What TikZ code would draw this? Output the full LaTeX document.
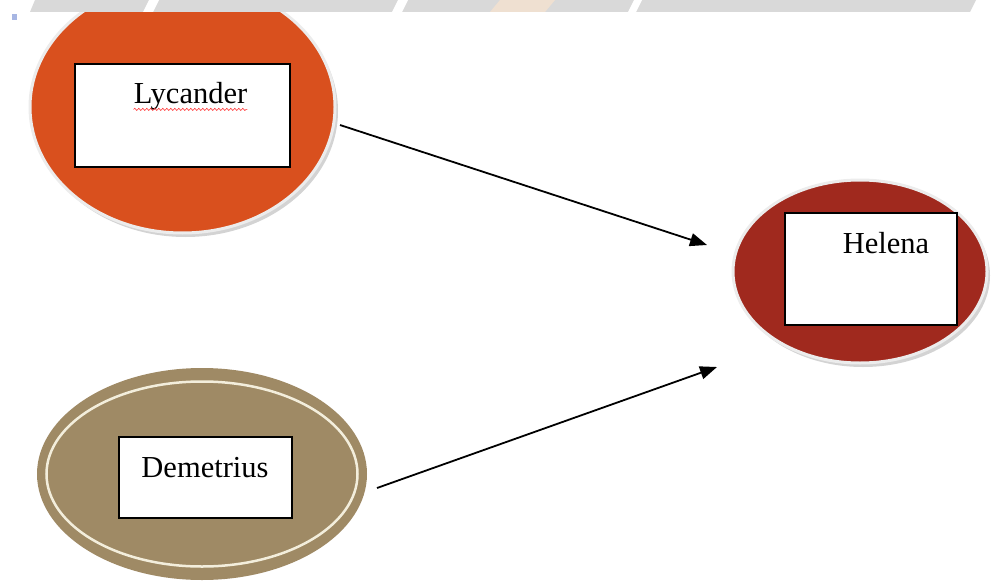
\documentclass[tikz,border=0pt]{standalone}
\usepackage{fontspec}
\setmainfont{Liberation Serif}
\usepackage{tikz}
\usetikzlibrary{arrows.meta,positioning,shapes,shadows,decorations.pathmorphing}
\definecolor{lycfill}{HTML}{D9501E}
\definecolor{helfill}{HTML}{A0291E}
\definecolor{demfill}{HTML}{9F8A65}
\definecolor{ringcol}{HTML}{F3EEDC}
\definecolor{bandcol}{HTML}{D9D9D9}
\tikzset{
    %Define standard arrow tip
    >={Triangle[length=17pt,width=13pt]},
    %Define style for ellipses
    bubble/.style={
    	ellipse,
    	inner sep=0pt
    },
    shadowed/.style={
    	bubble,
    	draw=gray!15, line width=3pt,
    	drop shadow={opacity=.35, shadow xshift=3pt, shadow yshift=-4pt}
    },
    %Define style for boxes
    namebox/.style={
    	rectangle,
    	draw=black, line width=1.2pt,
    	fill=white,
    	inner sep=0pt
    },
    nametext/.style={
    	font=\fontsize{30.5}{36}\selectfont,
    	text=black,
    	inner sep=0pt,
    	anchor=base
    },
    % Define arrow style
    pil/.style={
    	->,
    	line width=1.8pt},
    ringline/.style={draw=ringcol, line width=2.5pt},
    squiggle/.style={draw=red!80, line width=.6pt, decorate,
    decoration={snake, amplitude=1.1pt, segment length=4pt}},
}
\begin{document}
\begin{tikzpicture}[x=1pt,y=-1pt]
\useasboundingbox (0,0) rectangle (992,583);
%ellipses
\node[shadowed, fill=lycfill, minimum width=305pt, minimum height=252pt](L) at (182.5,107){};
\node[shadowed, fill=helfill, minimum width=254pt, minimum height=183pt](H) at (860,271.5){};
\node[bubble, fill=demfill, minimum width=330pt, minimum height=212pt](D) at (202,474){};
\draw[ringline] (D.center) ellipse [x radius=155.5, y radius=92.5];
%boxes
\node[namebox, minimum width=215pt, minimum height=103pt, yshift=-8.5pt](Lb) at (L.center){};
\node[namebox, minimum width=172pt, minimum height=112pt, xshift=11pt, yshift=2.5pt](Hb) at (H.center){};
\node[namebox, minimum width=173pt, minimum height=81pt, xshift=3.5pt, yshift=-3.5pt](Db) at (D.center){};
%names
\node[nametext](Lt) at ([xshift=8pt,yshift=-40pt]Lb.north){Lycander};
\node[nametext](Ht) at ([xshift=15pt,yshift=-41pt]Hb.north){Helena};
\node[nametext](Dt) at ([xshift=-0.5pt,yshift=-41pt]Db.north){Demetrius};
\draw[squiggle] ([yshift=-6pt]Lt.base west) -- ([yshift=-6pt]Lt.base east);
%arrows
\coordinate (Lout) at (340,125);
\coordinate (Hin1) at (707,245);
\coordinate (Dout) at (377,488);
\coordinate (Hin2) at (717,367);
\path[pil]
(Lout) edge (Hin1)
(Dout) edge (Hin2);
%top band
\fill[bandcol] (30,12) -- (35,0) -- (976,0) -- (970,12) -- cycle;
\fill[white] (143,12) -- (149,0) -- (159,0) -- (153,12) -- cycle;
\fill[white] (392,12) -- (398,0) -- (408,0) -- (402,12) -- cycle;
\fill[white] (628,12) -- (634,0) -- (642,0) -- (636,12) -- cycle;
\fill[orange!20, opacity=.6] (490,12) -- (500,0) -- (555,0) -- (545,12) -- cycle;
\fill[cyan!40!blue!35] (12,14) rectangle (17,20);
\end{tikzpicture}
\end{document}
